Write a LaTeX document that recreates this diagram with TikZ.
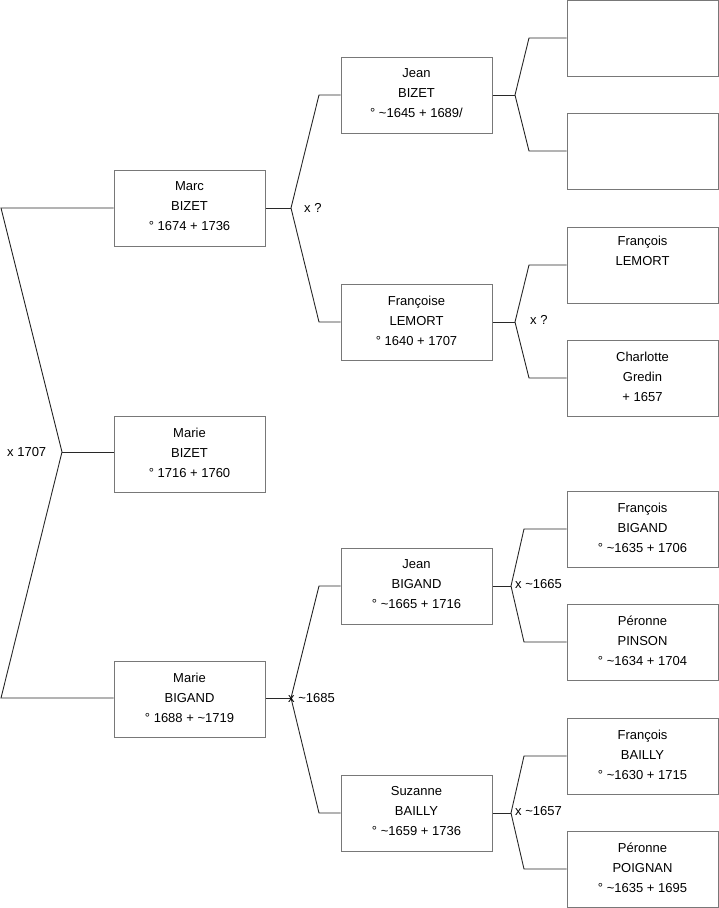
\documentclass[tikz,border=0pt]{standalone}
\usepackage{fontspec}
\setmainfont{Liberation Sans}
\newcommand\tld{\textasciitilde}
\definecolor{boxgray}{RGB}{120,120,120}
\definecolor{linecol}{RGB}{40,40,40}
\tikzset{
  box/.style={draw=boxgray, line width=1pt, minimum width=151pt, minimum height=76pt, inner sep=0pt},
  boxtext/.style={inner sep=0pt, align=center, font=\fontsize{13}{20}\selectfont},
  conn/.style={draw=linecol, line width=0.9pt},
  lbl/.style={font=\fontsize{13}{15}\selectfont, inner sep=0pt, anchor=west}
}
\newcommand\pbox[3]{%
  \node[box] (#1) at (#2) {};
  \node[boxtext] (#1-t) at ([yshift=1.5pt]#1.center) {#3};}
\begin{document}
\begin{tikzpicture}[x=1pt,y=-1pt]
\useasboundingbox (0,0) rectangle (719,908);
% column 1
\pbox{marc}{189.5,208}{Marc\\BIZET\\° 1674 + 1736}
\pbox{marieb}{189.5,454}{Marie\\BIZET\\° 1716 + 1760}
\pbox{marieg}{189.5,699}{Marie\\BIGAND\\° 1688 + \tld1719}
% column 2
\pbox{jeanbz}{416.5,95}{Jean\\BIZET\\° \tld1645 + 1689/}
\pbox{francoise}{416.5,322}{Françoise\\LEMORT\\° 1640 + 1707}
\pbox{jeanbg}{416.5,586}{Jean\\BIGAND\\° \tld1665 + 1716}
\pbox{suzanne}{416.5,813}{Suzanne\\BAILLY\\° \tld1659 + 1736}
% column 3
\node[box] (r1) at (642.5,38) {};
\node[box] (r2) at (642.5,151) {};
\pbox{r3}{642.5,265}{François\\LEMORT\\\strut}
\pbox{r4}{642.5,378}{Charlotte\\Gredin\\ + 1657}
\pbox{r5}{642.5,529}{François\\BIGAND\\° \tld1635 + 1706}
\pbox{r6}{642.5,642}{Péronne\\PINSON\\° \tld1634 + 1704}
\pbox{r7}{642.5,756}{François\\BAILLY\\° \tld1630 + 1715}
\pbox{r8}{642.5,869}{Péronne\\POIGNAN\\° \tld1635 + 1695}
% left bracket
\coordinate (L1) at (1,208);
\coordinate (Lm) at (62,452);
\coordinate (L3) at (1,698);
\draw[conn] (marc.west |- L1) -- (L1) -- (Lm) -- (L3) -- (marieg.west |- L3);
\draw[conn] (Lm) -- (marieb.west |- Lm);
\node[lbl] (t1707) at (7,452) {x 1707};
% Marc's parents
\coordinate (P1) at (291,208);
\coordinate (P1a) at (319,95);
\coordinate (P1b) at (319,322);
\draw[conn] (marc.east) -- (P1);
\draw[conn] (jeanbz.west) -- (P1a) -- (P1) -- (P1b) -- (francoise.west);
\node[lbl] (tq1) at (304,208) {x ?};
% Marie BIGAND's parents
\coordinate (P2) at (291,698);
\coordinate (P2a) at (319,586);
\coordinate (P2b) at (319,813);
\draw[conn] (marieg.east |- P2) -- (P2);
\draw[conn] (jeanbg.west) -- (P2a) -- (P2) -- (P2b) -- (suzanne.west);
\node[lbl] (t1685) at (288,698) {x \tld1685};
% Jean BIZET's parents
\coordinate (Q1) at (515,95);
\coordinate (Q1a) at (529,38);
\coordinate (Q1b) at (529,151);
\draw[conn] (jeanbz.east) -- (Q1);
\draw[conn] (r1.west) -- (Q1a) -- (Q1) -- (Q1b) -- (r2.west);
% Francoise's parents
\coordinate (Q2) at (515,322);
\coordinate (Q2a) at (529,265);
\coordinate (Q2b) at (529,378);
\draw[conn] (francoise.east) -- (Q2);
\draw[conn] (r3.west) -- (Q2a) -- (Q2) -- (Q2b) -- (r4.west);
\node[lbl] (tq2) at (530,320) {x ?};
% Jean BIGAND's parents
\coordinate (Q3) at (511,586);
\coordinate (Q3a) at (524,529);
\coordinate (Q3b) at (524,642);
\draw[conn] (jeanbg.east) -- (Q3);
\draw[conn] (r5.west) -- (Q3a) -- (Q3) -- (Q3b) -- (r6.west);
\node[lbl] (t1665) at (515,584) {x \tld1665};
% Suzanne's parents
\coordinate (Q4) at (511,813);
\coordinate (Q4a) at (524,756);
\coordinate (Q4b) at (524,869);
\draw[conn] (suzanne.east) -- (Q4);
\draw[conn] (r7.west) -- (Q4a) -- (Q4) -- (Q4b) -- (r8.west);
\node[lbl] (t1657) at (515,811) {x \tld1657};
\end{tikzpicture}
\end{document}
